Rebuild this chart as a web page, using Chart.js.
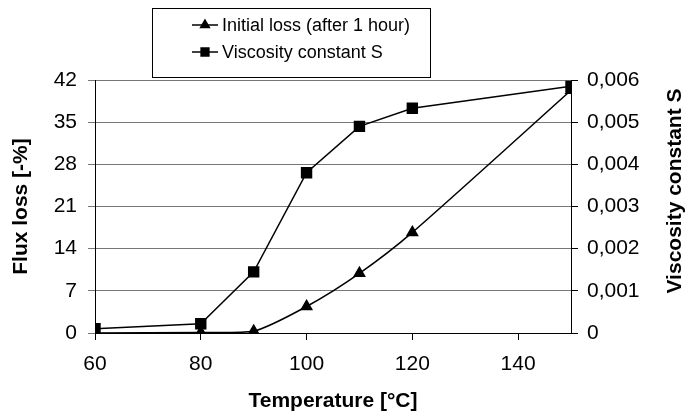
<!DOCTYPE html>
<html>
<head>
<meta charset="utf-8">
<script src="https://cdn.jsdelivr.net/npm/chart.js@4"></script>
<style>
  html, body { margin: 0; padding: 0; background: #fff; }
  #wrap { position: relative; width: 686px; height: 415px; }
</style>
</head>
<body>
<div id="wrap"><canvas id="chart" width="686" height="415"></canvas></div>
<script>
// ---------------- data
const temps = [60, 80, 90, 100, 110, 120, 150];
const initialLoss = [0, 0.1, 0.3, 4.4, 9.9, 16.7, 40.3];
const viscosity = [0.0001, 0.00022, 0.00145, 0.0038, 0.0049, 0.00533, 0.00585];

const xTicks = [60, 80, 100, 120, 140];
const leftTicks = [0, 7, 14, 21, 28, 35, 42];
const rightTicks = [0, 0.001, 0.002, 0.003, 0.004, 0.005, 0.006];

const seriesNames = ["Initial loss (after 1 hour)", "Viscosity constant S"];
const FONT = "Arial, 'Liberation Sans', sans-serif";

const pts = (ys) => temps.map((t, i) => ({ x: t, y: ys[i] }));

// ---------------- legend box + right title drawn on the canvas
const extras = {
  id: "extras",
  afterDraw(chart) {
    const ctx = chart.ctx;
    ctx.save();

    // legend frame
    ctx.strokeStyle = "#000";
    ctx.lineWidth = 1;
    ctx.strokeRect(152.5, 8.5, 278, 69);

    ctx.font = "18px " + FONT;
    ctx.fillStyle = "#000";
    ctx.textBaseline = "middle";
    const rows = [
      { y: 25, style: "triangle", r: 5 },
      { y: 52, style: "rect", r: 5.5 }
    ];
    rows.forEach((row, i) => {
      ctx.beginPath();
      ctx.lineWidth = 1.5;
      ctx.moveTo(192, row.y);
      ctx.lineTo(218, row.y);
      ctx.stroke();
      Chart.helpers.drawPoint(ctx, { pointStyle: row.style, radius: row.r, rotation: 0, borderWidth: 1 }, 205, row.y);
      ctx.fill();
      ctx.fillText(seriesNames[i], 222, row.y + 1);
    });

    // right axis title, reading bottom to top
    ctx.font = "bold 21px " + FONT;
    ctx.textAlign = "center";
    ctx.textBaseline = "alphabetic";
    ctx.translate(681, 191);
    ctx.rotate(-Math.PI / 2);
    ctx.fillText("Viscosity constant S", 0, 0);
    ctx.restore();
  }
};

new Chart(document.getElementById("chart"), {
  type: "line",
  data: {
    datasets: [
      {
        label: seriesNames[0],
        data: pts(initialLoss),
        yAxisID: "y",
        borderColor: "#000",
        backgroundColor: "#000",
        borderWidth: 1.5,
        pointStyle: "triangle",
        pointRadius: 6,
        tension: 0.25
      },
      {
        label: seriesNames[1],
        data: pts(viscosity),
        yAxisID: "y1",
        borderColor: "#000",
        backgroundColor: "#000",
        borderWidth: 1.5,
        pointStyle: "rect",
        pointRadius: 7,
        tension: 0
      }
    ]
  },
  options: {
    responsive: false,
    animation: false,
    layout: { padding: { top: 80, left: 0, right: 0, bottom: 0 } },
    plugins: {
      legend: { display: false },
      tooltip: { enabled: false }
    },
    scales: {
      x: {
        type: "linear",
        min: 60,
        max: 150,
        afterBuildTicks: (s) => { s.ticks = xTicks.map(v => ({ value: v })); },
        afterFit: (s) => { s.height = 82; },
        grid: { drawOnChartArea: false, color: "#000", tickLength: 7 },
        border: { color: "#000", width: 1 },
        ticks: { color: "#000", font: { family: FONT, size: 21 }, padding: 12 },
        title: {
          display: true,
          text: "Temperature [°C]",
          color: "#000",
          font: { family: FONT, size: 21, weight: "bold" },
          padding: { top: 0, bottom: 1 }
        }
      },
      y: {
        position: "left",
        min: 0,
        max: 42,
        afterBuildTicks: (s) => { s.ticks = leftTicks.map(v => ({ value: v })); },
        afterFit: (s) => { s.width = 95; },
        grid: { color: "#777", lineWidth: 1, tickLength: 7 },
        border: { color: "#000", width: 1 },
        ticks: { color: "#000", font: { family: FONT, size: 21 }, padding: 11 },
        title: {
          display: true,
          text: "Flux loss [-%]",
          color: "#000",
          font: { family: FONT, size: 21, weight: "bold" },
          padding: { top: 9, bottom: 0 }
        }
      },
      y1: {
        position: "right",
        min: 0,
        max: 0.006,
        afterBuildTicks: (s) => { s.ticks = rightTicks.map(v => ({ value: v })); },
        afterFit: (s) => { s.width = 115; },
        grid: { drawOnChartArea: false, color: "#000", tickLength: 7 },
        border: { color: "#000", width: 1 },
        ticks: {
          color: "#000",
          font: { family: FONT, size: 21 },
          padding: 9,
          callback: (v) => v === 0 ? "0" : v.toFixed(3).replace(".", ",")
        }
      }
    }
  },
  plugins: [extras]
});
</script>
</body>
</html>
